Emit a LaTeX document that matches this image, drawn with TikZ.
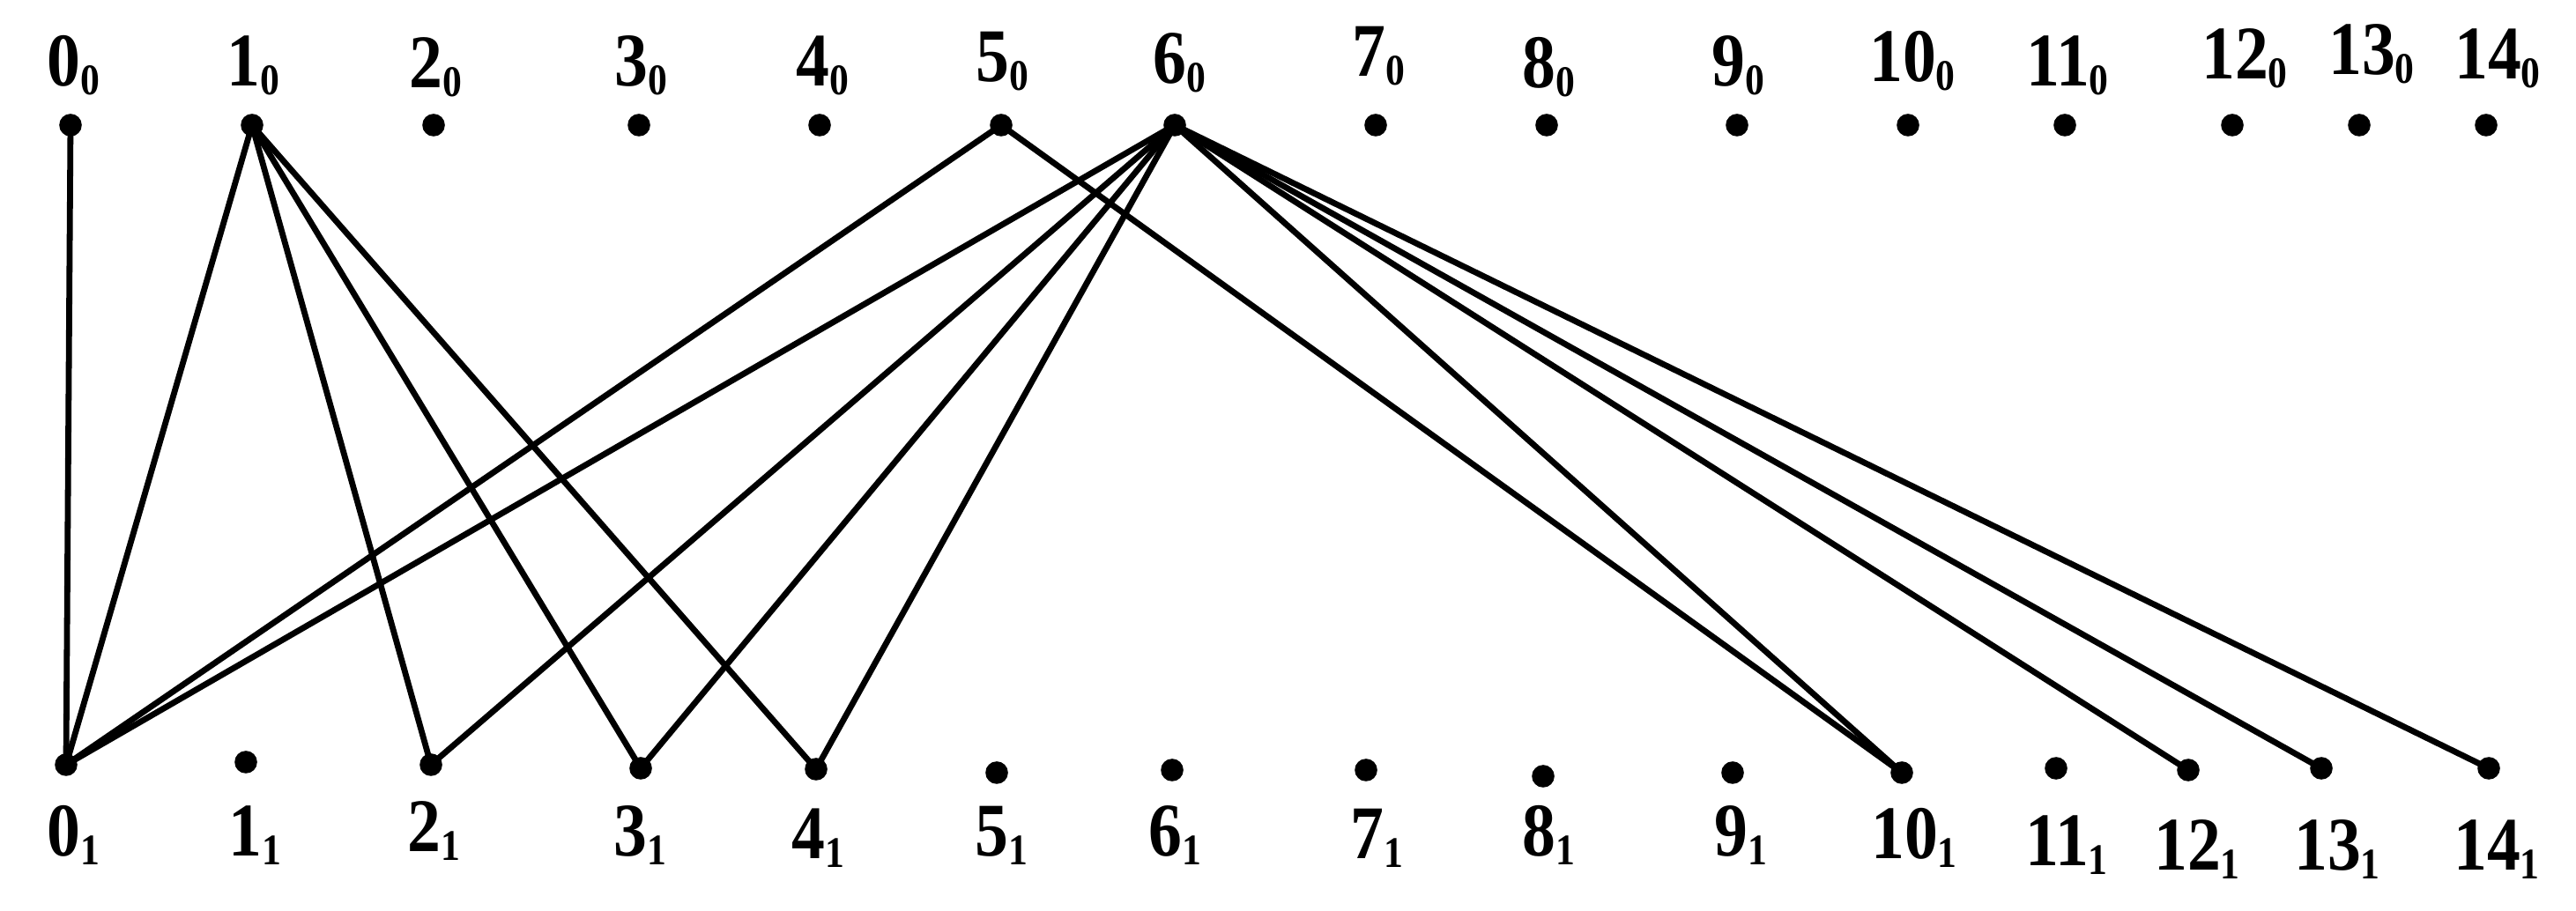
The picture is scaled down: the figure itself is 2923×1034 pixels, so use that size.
\documentclass[tikz,border=0pt]{standalone}
\usepackage{fontspec}
\setmainfont{Liberation Serif}[FakeStretch=0.88]
\newcommand{\lab}[2]{#1\raisebox{-2.5pt}{\fontsize{12.4}{14}\selectfont #2}}
\begin{document}
\begin{tikzpicture}[y=0.25pt,x=0.25pt,yscale=-1, inner sep=0pt, outer sep=0pt,
  dot/.style={circle,fill=black,minimum size=6.4pt},
  wire/.style={draw=black,line join=miter,line cap=butt,line width=1.7pt},
  lbl/.style={anchor=base,font=\fontsize{21.5}{24}\selectfont\bfseries}]
\useasboundingbox (0,0) rectangle (2923,1034);

% upper row
\path (80,142) node[dot] (t0) {};
\path (286,142) node[dot] (t1) {};
\path (492,142) node[dot] (t2) {};
\path (725,142) node[dot] (t3) {};
\path (930,142) node[dot] (t4) {};
\path (1136,142) node[dot] (t5) {};
\path (1333,142) node[dot] (t6) {};
\path (1561,142) node[dot] (t7) {};
\path (1755,142) node[dot] (t8) {};
\path (1971,142) node[dot] (t9) {};
\path (2165,142) node[dot] (t10) {};
\path (2343,142) node[dot] (t11) {};
\path (2533,142) node[dot] (t12) {};
\path (2677,142) node[dot] (t13) {};
\path (2821,142) node[dot] (t14) {};

\path (83,98) node[lbl] (text0t) {\lab{0}{0}};
\path (287,98) node[lbl] (text1t) {\lab{1}{0}};
\path (494,100) node[lbl] (text2t) {\lab{2}{0}};
\path (727,98) node[lbl] (text3t) {\lab{3}{0}};
\path (933,98) node[lbl] (text4t) {\lab{4}{0}};
\path (1137,93) node[lbl] (text5t) {\lab{5}{0}};
\path (1338,95) node[lbl] (text6t) {\lab{6}{0}};
\path (1564,87) node[lbl] (text7t) {\lab{7}{0}};
\path (1757,100) node[lbl] (text8t) {\lab{8}{0}};
\path (1972,98) node[lbl] (text9t) {\lab{9}{0}};
\path (2170,93) node[lbl] (text10t) {\lab{10}{0}};
\path (2346,98) node[lbl] (text11t) {\lab{11}{0}};
\path (2547,90) node[lbl] (text12t) {\lab{12}{0}};
\path (2691,85) node[lbl] (text13t) {\lab{13}{0}};
\path (2834,90) node[lbl] (text14t) {\lab{14}{0}};

% lower row
\path (75,868) node[dot] (b0) {};
\path (279,865) node[dot] (b1) {};
\path (489,868) node[dot] (b2) {};
\path (727,872) node[dot] (b3) {};
\path (926,873) node[dot] (b4) {};
\path (1131,877) node[dot] (b5) {};
\path (1330,874) node[dot] (b6) {};
\path (1550,874) node[dot] (b7) {};
\path (1751,881) node[dot] (b8) {};
\path (1966,877) node[dot] (b9) {};
\path (2158,877) node[dot] (b10) {};
\path (2333,872) node[dot] (b11) {};
\path (2483,874) node[dot] (b12) {};
\path (2634,872) node[dot] (b13) {};
\path (2824,872) node[dot] (b14) {};

\path (83,972) node[lbl] (text0b) {\lab{0}{1}};
\path (289,972) node[lbl] (text1b) {\lab{1}{1}};
\path (492,967) node[lbl] (text2b) {\lab{2}{1}};
\path (726,972) node[lbl] (text3b) {\lab{3}{1}};
\path (928,975) node[lbl] (text4b) {\lab{4}{1}};
\path (1136,972) node[lbl] (text5b) {\lab{5}{1}};
\path (1333,972) node[lbl] (text6b) {\lab{6}{1}};
\path (1562,975) node[lbl] (text7b) {\lab{7}{1}};
\path (1757,972) node[lbl] (text8b) {\lab{8}{1}};
\path (1975,972) node[lbl] (text9b) {\lab{9}{1}};
\path (2172,975) node[lbl] (text10b) {\lab{10}{1}};
\path (2345,983) node[lbl] (text11b) {\lab{11}{1}};
\path (2493,988) node[lbl] (text12b) {\lab{12}{1}};
\path (2652,988) node[lbl] (text13b) {\lab{13}{1}};
\path (2833,988) node[lbl] (text14b) {\lab{14}{1}};

% edges
\path[wire] (t0.center) -- (b0.center);
\path[wire] (t1.center) -- (b0.center);
\path[wire] (t1.center) -- (b2.center);
\path[wire] (t1.center) -- (b3.center);
\path[wire] (t1.center) -- (b4.center);
\path[wire] (t5.center) -- (b0.center);
\path[wire] (t5.center) -- (b10.center);
\path[wire] (t6.center) -- (b0.center);
\path[wire] (t6.center) -- (b2.center);
\path[wire] (t6.center) -- (b3.center);
\path[wire] (t6.center) -- (b4.center);
\path[wire] (t6.center) -- (b10.center);
\path[wire] (t6.center) -- (b12.center);
\path[wire] (t6.center) -- (b13.center);
\path[wire] (t6.center) -- (b14.center);
\end{tikzpicture}
\end{document}
